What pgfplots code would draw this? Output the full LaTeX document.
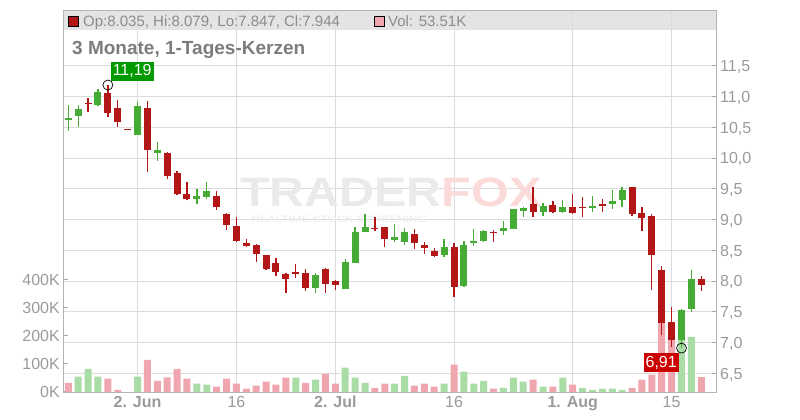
\documentclass[border=0pt]{standalone}
\usepackage{pgfplots}
\pgfplotsset{compat=1.18}
\usepackage{pgfplotstable}
\usepackage{fontspec}
\setmainfont{Liberation Sans}
\definecolor{cR}{HTML}{B31616}
\definecolor{cG}{HTML}{46AB35}
\definecolor{vR}{HTML}{EFA6AE}
\definecolor{vG}{HTML}{AADDA6}
\definecolor{gridc}{HTML}{DCDCDC}
\definecolor{axc}{HTML}{B4B4B4}
\definecolor{tickc}{HTML}{A8A8A8}
\definecolor{lab}{HTML}{9A9A9A}
\definecolor{hdr}{HTML}{E4E4E4}
\definecolor{hdrtxt}{HTML}{8C8C8C}
\definecolor{ttl}{HTML}{7C7C7C}
\definecolor{wmg}{HTML}{EAEAEA}
\definecolor{wmp}{HTML}{FBDADA}
\definecolor{lblG}{HTML}{009A00}
\definecolor{lblR}{HTML}{CC0000}
\newcommand{\fs}[1]{\fontsize{#1}{#1}\selectfont}

\pgfplotstableread{
i o h l c
0 10.626 10.865 10.447 10.654
1 10.69 10.865 10.51 10.80
3 10.87 11.125 10.853 11.076
7 10.377 10.914 10.377 10.848
9 10.079 10.263 9.954 10.133
13 9.34 9.498 9.254 9.389
14 9.373 9.612 9.34 9.466
25 7.893 8.137 7.811 8.10
28 7.876 8.36 7.876 8.311
29 8.30 8.875 8.30 8.799
30 8.804 9.092 8.794 8.88
33 8.673 8.929 8.641 8.717
34 8.641 8.859 8.592 8.799
38 8.429 8.685 8.392 8.555
40 7.92 8.652 7.909 8.587
41 8.625 8.848 8.576 8.657
42 8.657 8.826 8.641 8.815
44 8.82 8.973 8.755 8.864
45 8.853 9.168 8.853 9.168
46 9.145 9.205 9.038 9.184
48 9.129 9.27 9.064 9.222
50 9.129 9.324 9.113 9.205
53 9.194 9.384 9.119 9.227
55 9.259 9.482 9.173 9.308
56 9.319 9.536 9.21 9.482
62 7.042 7.541 6.91 7.53
63 7.541 8.18 7.502 8.034
}\green

\pgfplotstableread{
i o h l c
2 10.897 10.974 10.756 10.876
4 11.06 11.19 10.67 10.73
5 10.816 10.946 10.51 10.593
6 10.475 10.475 10.45 10.45
8 10.816 10.93 9.78 10.138
10 10.084 10.10 9.666 9.715
11 9.759 9.791 9.396 9.422
12 9.417 9.612 9.319 9.34
15 9.384 9.466 9.161 9.21
16 9.092 9.108 8.831 8.917
17 8.901 9.048 8.631 8.652
18 8.62 8.685 8.56 8.576
19 8.582 8.604 8.316 8.446
20 8.424 8.424 8.18 8.202
21 8.294 8.376 8.083 8.153
22 8.11 8.127 7.811 8.039
23 8.148 8.278 8.055 8.115
24 8.132 8.197 7.844 7.893
26 8.197 8.213 7.811 7.958
27 8.002 8.018 7.86 7.941
31 8.866 9.04 8.82 8.845
32 8.88 8.88 8.56 8.69
35 8.766 8.843 8.527 8.625
36 8.587 8.636 8.446 8.543
37 8.49 8.538 8.392 8.413
39 8.555 8.62 7.746 7.909
43 8.804 8.826 8.641 8.778
47 9.254 9.531 9.048 9.129
49 9.238 9.298 9.103 9.129
51 9.205 9.417 9.096 9.113
52 9.21 9.373 9.048 9.194
54 9.259 9.336 9.124 9.227
57 9.536 9.536 9.064 9.087
58 9.108 9.20 8.82 9.031
59 9.059 9.087 7.855 8.424
60 8.18 8.246 7.123 7.323
61 7.335 7.583 6.933 7.042
64 8.035 8.079 7.847 7.944
}\red

\pgfplotstableread{
i v
1 55
2 83
3 55
7 55
13 30
14 26
23 51
25 44
28 87
29 51
30 33
33 30
34 58
38 30
40 73
41 30
42 40
44 15
45 51
46 37
48 19
50 51
52 15
53 8
54 12
55 12
56 8
62 260
63 197
}\volg

\pgfplotstableread{
i v
0 33
4 48
5 8
8 115
9 40
10 52
11 83
12 48
15 19
16 48
17 30
18 12
19 23
20 37
21 26
22 51
24 33
26 65
27 30
31 15
32 30
35 23
36 30
37 19
39 98
43 12
47 44
49 19
51 26
57 15
58 44
59 62
60 290
61 240
64 53.51
}\volr

\pgfplotsset{base/.style={at={(63pt,28pt)}, anchor=south west, scale only axis,
  width=653pt, height=381pt, xmin=-0.536, xmax=65.49}}

\begin{document}
\begin{tikzpicture}
\useasboundingbox (0,0) rectangle (800pt,420pt);
% header band
\fill[hdr] (63pt,390pt) rectangle (716pt,409pt);

% price axis: grid, frame, ticks
\begin{axis}[base, ymin=6.196, ymax=12.394,
  axis line style={draw=axc, line width=1pt},
  xmajorgrids, ymajorgrids,
  grid style={draw=gridc, line width=1pt},
  ytick={6.5,7,7.5,8,8.5,9,9.5,10,10.5,11,11.5},
  yticklabels={{6,5},{7,0},{7,5},{8,0},{8,5},{9,0},{9,5},{10,0},{10,5},{11,0},{11,5}},
  ytick pos=right, yticklabel pos=right,
  xtick={7,17,27,39,51,61},
  xticklabels={\textbf{2. Jun},16,\textbf{2. Jul},16,\textbf{1. Aug},15},
  xtick pos=bottom,
  tick align=inside,
  major tick length=4pt,
  major tick style={draw=tickc, line width=1pt},
  yticklabel style={anchor=west, inner sep=0pt, xshift=4pt, text height=11.5pt, text depth=0pt, font=\fs{16}, text=lab},
  xticklabel style={anchor=north, inner sep=0pt, text height=11.5pt, text depth=0pt, font=\fs{16}, text=lab, yshift=-4pt},
]
\end{axis}

% watermark
\node[anchor=base west, inner sep=0pt, font=\bfseries\fs{41}, xscale=1.18] at (240pt,213.3pt)
  {\textcolor{wmg}{TRADER}\textcolor{wmp}{FOX}};
\node[anchor=base west, inner sep=0pt, font=\fs{9.3}, xscale=1.27, text=wmg] at (251pt,197.3pt)
  {REALTIME STOCK SCREENING};

% volume axis
\begin{axis}[base, ymin=0, ymax=1360.7,
  axis line style={draw=none},
  xtick=\empty,
  ytick={0,100,200,300,400},
  yticklabels={0K,100K,200K,300K,400K},
  ytick pos=left,
  tick align=inside,
  major tick length=5pt,
  major tick style={draw=tickc, line width=1pt},
  yticklabel style={anchor=east, inner sep=0pt, xshift=-3pt, text height=11.5pt, text depth=0pt, font=\fs{16}, text=lab},
]
\addplot[ybar, bar width=7pt, bar shift=0pt, fill=vG, draw=none] table[x=i,y=v] {\volg};
\addplot[ybar, bar width=7pt, bar shift=0pt, fill=vR, draw=none] table[x=i,y=v] {\volr};
\end{axis}

% candles
\begin{axis}[base, ymin=6.196, ymax=12.394, hide axis, clip=false]
\addplot[draw=none, mark=none, error bars/.cd, y dir=plus, y explicit, error mark=none,
  error bar style={draw=cG, line width=1.3pt}]
  table[x=i, y=l, y error plus expr=\thisrow{h}-\thisrow{l}] {\green};
\addplot[draw=none, mark=none, error bars/.cd, y dir=plus, y explicit, error mark=none,
  error bar style={draw=cG, line width=7pt}]
  table[x=i, y=o, y error plus expr=\thisrow{c}-\thisrow{o}] {\green};
\addplot[draw=none, mark=none, error bars/.cd, y dir=plus, y explicit, error mark=none,
  error bar style={draw=cR, line width=1.3pt}]
  table[x=i, y=l, y error plus expr=\thisrow{h}-\thisrow{l}] {\red};
\addplot[draw=none, mark=none, error bars/.cd, y dir=plus, y explicit, error mark=none,
  error bar style={draw=cR, line width=7pt}]
  table[x=i, y=c, y error plus expr=\thisrow{o}-\thisrow{c}] {\red};
\addplot[only marks, mark=o, mark size=5pt, mark options={draw=black, line width=0.7pt}]
  coordinates {(4,11.19) (62,6.91)};
\node[fill=lblG, text=white, inner xsep=2pt, inner ysep=2.2pt, text height=11.5pt, text depth=2.5pt,
  anchor=south west, font=\fs{16}, xshift=2.7pt, yshift=4.3pt] at (axis cs:4,11.19) {11,19};
\node[fill=lblR, text=white, inner xsep=2pt, inner ysep=2.2pt, text height=11.5pt, text depth=2.5pt,
  anchor=north east, font=\fs{16}, xshift=-2.5pt, yshift=-5pt] at (axis cs:62,6.91) {6,91};
\end{axis}

% header texts
\filldraw[fill=cR, draw=black, line width=0.8pt] (68pt,393.3pt) rectangle (78pt,403.3pt);
\node[anchor=base west, inner sep=0pt, font=\fs{15}, text=hdrtxt] at (83pt,393.3pt)
  {Op:8.035, Hi:8.079, Lo:7.847, Cl:7.944};
\filldraw[fill=vR, draw=black, line width=0.8pt] (374pt,393.3pt) rectangle (384pt,403.3pt);
\node[anchor=base west, inner sep=0pt, font=\fs{15}, text=hdrtxt] at (388pt,393.3pt)
  {Vol: 53.51K};
\node[anchor=base west, inner sep=0pt, font=\bfseries\fs{19}, text=ttl] at (72pt,365.7pt)
  {3 Monate, 1-Tages-Kerzen};
\end{tikzpicture}
\end{document}
